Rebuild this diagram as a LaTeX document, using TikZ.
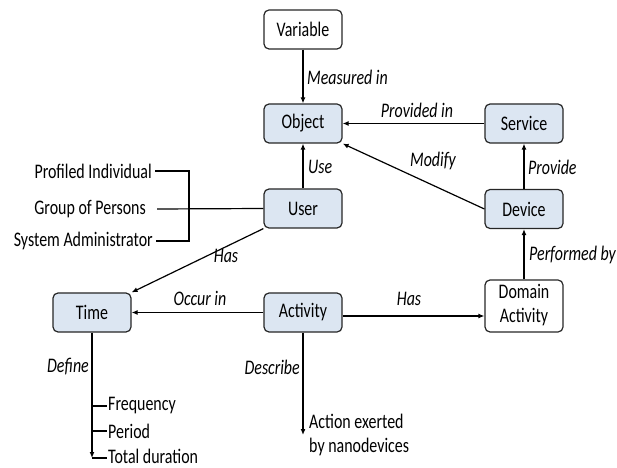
\documentclass[tikz,border=0pt]{standalone}
\usepackage{fontspec}
\setmainfont{Carlito}
\usepackage{graphicx}
\usetikzlibrary{arrows.meta}
\definecolor{blueish}{RGB}{220,230,242}
\newcommand{\st}[1]{\scalebox{1}[1.3]{#1}}
\begin{document}
\begin{tikzpicture}[x=1bp,y=-1bp,
  box/.style={draw=black!85, line width=1.2bp, rounded corners=5bp, minimum width=78bp, minimum height=39bp, inner sep=0pt, font=\fontsize{16}{18.5}\selectfont},
  cls/.style={box, fill=blueish},
  lab/.style={font=\fontsize{16}{18.5}\selectfont\itshape, inner sep=1bp},
  txt/.style={font=\fontsize{16}{18.5}\selectfont, inner sep=1bp},
  arr/.style={line width=1.2bp, -{Latex[length=6bp,width=5bp]}},
  ln/.style={line width=1.2bp}]
\useasboundingbox (0,0) rectangle (617,468);
% nodes
\node[box] (var) at (303,29.5) {\st{Variable}};
\node[cls] (obj) at (303,123.5) {\st{Object}};
\node[cls] (srv) at (524,123.5) {\st{Service}};
\node[cls] (usr) at (303,208.5) {\st{User}};
\node[cls] (dev) at (524,209) {\st{Device}};
\node[box, minimum height=52bp] (dom) at (524,306) {\st{\begin{tabular}{@{}c@{}}Domain\\Activity\end{tabular}}};
\node[cls] (time) at (92,312.5) {\st{Time}};
\node[cls] (act) at (303,312.5) {\st{Activity}};
% connectors
\draw[arr] (var) -- (obj);
\node[lab, anchor=west] (lmeas) at (306,77) {\st{Measured in}};
\draw[arr] (srv) -- (obj);
\node[lab] (lprov) at (417,110) {\st{Provided in}};
\draw[arr] (usr) -- (obj);
\node[lab, anchor=west] (luse) at (307,167) {\st{Use}};
\draw[arr] (dev.west) -- (obj.south east);
\node[lab] (lmod) at (433,161) {\st{Modify}};
\draw[arr] (dev) -- (srv);
\node[lab, anchor=west] (lprovide) at (527,167) {\st{Provide}};
\draw[arr] (dom) -- (dev);
\node[lab, anchor=west] (lperf) at (528,255) {\st{Performed by}};
\draw[arr] (usr.south west) -- (time.north east);
\node[lab] (lhas1) at (226,256) {\st{Has}};
\draw[arr] (act) -- (time);
\node[lab] (locc) at (200,298) {\st{Occur in}};
\draw[arr] ([yshift=-3.5bp]act.east) coordinate (h1) -- (h1 -| dom.west);
\node[lab] (lhas2) at (409,299) {\st{Has}};
% describe
\coordinate (ae) at (303,435);
\draw[arr] (act) -- (ae);
\node[lab, anchor=east] (ldesc) at (301,367) {\st{Describe}};
\node[txt, anchor=west] (action) at (308,436) {\st{\begin{tabular}{@{}l@{}}Action exerted\\by nanodevices\end{tabular}}};
% define
\coordinate (tb) at (92,458);
\coordinate (t1) at (92,406);
\coordinate (t2) at (92,431);
\draw[arr] (time) -- (tb);
\node[lab, anchor=east] (ldef) at (90,367) {\st{Define}};
\node[txt, anchor=west] (freq) at (107,406) {\st{Frequency}};
\node[txt, anchor=west] (per) at (107,431) {\st{Period}};
\node[txt, anchor=west] (tot) at (107,456) {\st{Total duration}};
\draw[ln] (t1) -- (t1 -| freq.west);
\draw[ln] (t2) -- (t2 -| per.west);
\draw[ln] (tb) -- (tb -| tot.west);
% user kinds
\node[txt, anchor=east] (pi) at (153,171) {\st{Profiled Individual}};
\node[txt, anchor=east] (gp) at (147,209) {\st{Group of Persons}};
\node[txt, anchor=east] (sa) at (154,241) {\st{System Administrator}};
\draw[ln] ([xshift=2bp]pi.east) -- ++(34,0) coordinate (bk) |- ([xshift=2bp]sa.east);
\draw[ln] ([xshift=10bp]gp.east) -- (usr.west);
\end{tikzpicture}
\end{document}
